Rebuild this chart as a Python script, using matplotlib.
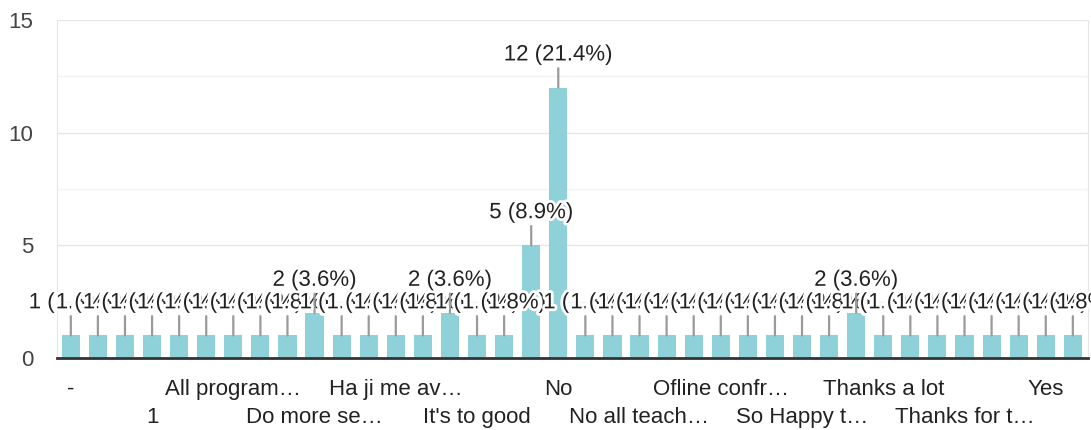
import matplotlib
matplotlib.use("Agg")
import matplotlib.pyplot as plt
import matplotlib.patheffects as pe
from matplotlib.ticker import MultipleLocator

plt.rcParams['font.family'] = ['Liberation Sans', 'DejaVu Sans']

# responses, sorted as in the form summary (only every 3rd label is shown)
categories = [
    "-", ".", "0", "1", "Achha", "All good", "All program…", "Awesome", "Best",
    "Do more se…", "Excellent", "Good", "Ha ji me av…", "Helpful", "It is good",
    "It's to good", "Keep it up", "Nice", "No", "No.", "No..", "No all teach…",
    "Nope", "Nothing", "Ofline confr…", "Ok", "Overall good", "So Happy t…",
    "Superb", "Thank you", "Thanks a lot", "Thanks for all", "Thanks for guidance",
    "Thanks for t…", "Very good", "Very nice", "Yes", "Yes good",
]
counts = [
    1, 1, 1, 1, 1, 1, 1, 1, 1, 2, 1, 1, 1, 1, 2, 1, 1, 5, 12,
    1, 1, 1, 1, 1, 1, 1, 1, 1, 1, 2, 1, 1, 1, 1, 1, 1, 1, 1,
]
total = sum(counts)

bar_color = '#8ed1d9'
text_color = '#222222'
fsize = 16

fig = plt.figure(figsize=(10.91, 4.30), dpi=100)
ax = fig.add_axes([0.052, 0.1674, 0.945, 0.7861])

x = list(range(len(categories)))
ax.bar(x, counts, width=0.67, color=bar_color, zorder=2)

# value labels with leader lines, each with a white halo that covers its neighbours
for i, v in enumerate(counts):
    label = f"{v} ({v / total * 100:.1f}%)"
    ax.annotate(label, xy=(i, v), xytext=(0, 23.5), textcoords='offset points',
                ha='center', va='center', fontsize=fsize, color=text_color,
                arrowprops=dict(arrowstyle='-', color='#9a9a9a', lw=1.6,
                                shrinkA=0, shrinkB=0),
                path_effects=[pe.withStroke(linewidth=4, foreground='white')],
                zorder=4)

ax.set_xlim(-0.52, 37.55)
ax.set_ylim(0, 15)
ax.set_yticks([0, 5, 10, 15])
ax.yaxis.set_minor_locator(MultipleLocator(2.5))
ax.grid(axis='y', which='major', color='#e6e6e6', lw=1, zorder=0)
ax.grid(axis='y', which='minor', color='#f3f3f3', lw=1, zorder=0)
ax.set_axisbelow(True)

shown = x[::3]
tick_labels = []
for k, i in enumerate(shown):
    tick_labels.append(categories[i] if k % 2 == 0 else "\n" + categories[i])
ax.set_xticks(shown)
ax.set_xticklabels(tick_labels, fontsize=fsize, color=text_color, linespacing=1.42)
ax.tick_params(axis='x', length=0, pad=15)
ax.tick_params(axis='y', which='both', length=0, pad=17, labelsize=fsize,
               labelcolor='#444444')

ax.spines['top'].set_visible(False)
ax.spines['left'].set_color('#e6e6e6')
ax.spines['right'].set_color('#e6e6e6')
ax.spines['bottom'].set_color('#333333')
ax.spines['bottom'].set_linewidth(2)
ax.spines['bottom'].set_zorder(3)

fig.savefig('out.png', dpi=100)
